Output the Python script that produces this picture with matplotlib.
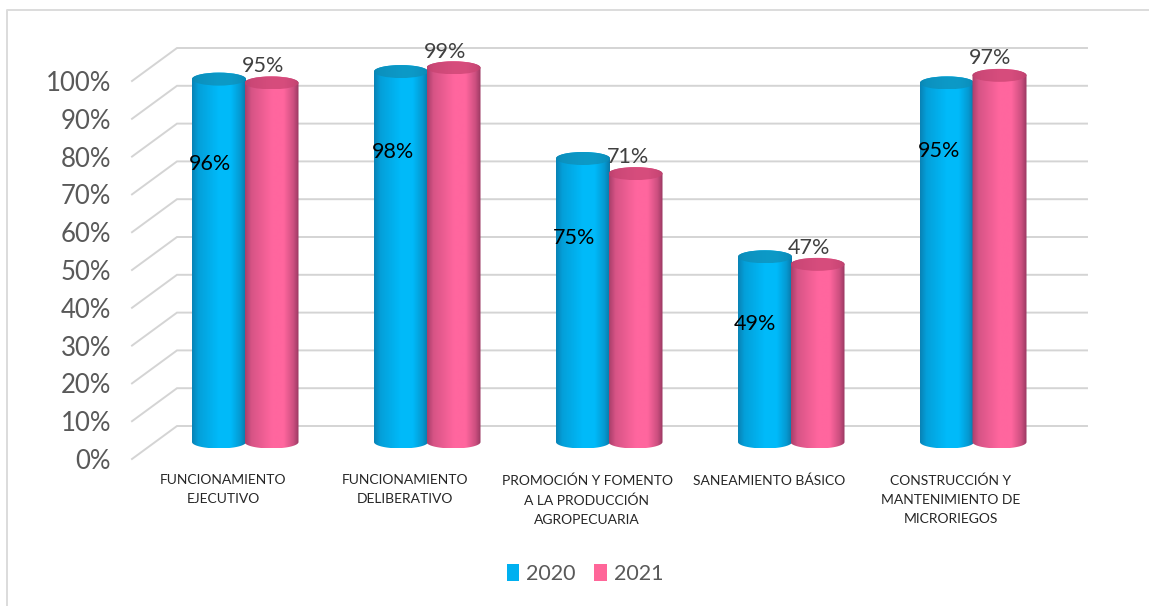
import numpy as np
import matplotlib
matplotlib.use("Agg")
import matplotlib.pyplot as plt
from matplotlib.patches import Polygon, Ellipse, Patch
from matplotlib.lines import Line2D

categories = ["FUNCIONAMIENTO\nEJECUTIVO", "FUNCIONAMIENTO\nDELIBERATIVO",
              "PROMOCIÓN Y FOMENTO\nA LA PRODUCCIÓN\nAGROPECUARIA",
              "SANEAMIENTO BÁSICO",
              "CONSTRUCCIÓN Y\nMANTENIMIENTO DE\nMICRORIEGOS"]
values_2020 = [96, 98, 75, 49, 95]
values_2021 = [95, 99, 71, 47, 97]
y_ticks = list(range(0, 101, 10))
series_names = ["2020", "2021"]

W, H = 1149, 606
plt.rcParams['font.family'] = ['Lato', 'DejaVu Sans']
fig = plt.figure(figsize=(W/100, H/100), dpi=100)
fig.patch.set_facecolor('white')
PX_X = 182.0
PX_Y = 3.78
Y_MAX = 112
ax = fig.add_axes([132/W, 1-459/H, 910/W, Y_MAX*PX_Y/H])
ax.patch.set_alpha(0)
for s in ax.spines.values():
    s.set_visible(False)

depth_x, depth_y = 45/PX_X, 33/PX_Y
mid_x, mid_y = 22/PX_X, 17/PX_Y
half_w = 27/PX_X
ry = 6.5/PX_Y

# outer frame: left and top edges only
fig.add_artist(Line2D([6.5/W, 6.5/W, 1.0], [0, 1-10/H, 1-10/H], transform=fig.transFigure,
                      color='#dcdcdc', lw=1.4))

# 3D walls / gridlines
for v in y_ticks:
    ax.plot([-0.5, -0.5+depth_x, 4.5+depth_x], [v, v+depth_y, v+depth_y],
            color='#d4d4d4', lw=1.4, clip_on=False, zorder=1, solid_joinstyle='miter')

def shade(dark, light, stops):
    t = np.linspace(0, 1, 200)
    prof = np.interp(t, [0, .12, .5, .72, .9, 1], stops)
    d, l = np.array(dark), np.array(light)
    return (d[None, :] + prof[:, None]*(l-d)[None, :])[None, :, :]

BODY = [0.15, .6, 1, 1, .5, 0]
CAP = [0.55, .8, 1, 1, .8, .55]

def cylinder(cx, top, dark, light, cap_d, cap_l, z):
    t = np.linspace(np.pi, 2*np.pi, 60)
    base = mid_y
    low = np.c_[cx+half_w*np.cos(t), base+ry*np.sin(t)]
    hi = np.c_[cx+half_w*np.cos(t[::-1]), top-ry*np.sin(t[::-1])]
    body = Polygon(np.r_[low, hi], closed=True, fc='none', ec='none')
    ax.add_patch(body)
    im = ax.imshow(shade(dark, light, BODY), extent=[cx-half_w, cx+half_w, base-ry, top+ry],
                   aspect='auto', zorder=z, interpolation='bilinear', origin='lower')
    im.set_clip_path(body)
    cap = Ellipse((cx, top), 2*half_w, 2*ry, fc='none', ec='none')
    ax.add_patch(cap)
    ic = ax.imshow(shade(cap_d, cap_l, CAP), extent=[cx-half_w, cx+half_w, top-ry, top+ry],
                   aspect='auto', zorder=z+.1, interpolation='bilinear', origin='lower')
    ic.set_clip_path(cap)

blue = ((.04, .47, .66), (0, .73, .98), (.03, .45, .62), (.05, .60, .78))
pink = ((.60, .22, .38), (1, .40, .62), (.62, .20, .36), (.84, .30, .49))
for i, (a, b) in enumerate(zip(values_2020, values_2021)):
    cylinder(i+mid_x-26/PX_X, a+mid_y, *blue, 3)
    cylinder(i+mid_x+26.5/PX_X, b+mid_y, *pink, 4)
ax.set_xlim(-0.5, 4.5)
ax.set_ylim(0, Y_MAX)

# data labels
blue_off = [(-9, -85), (-8, -80), (-9, -79), (-10, -67), (-8, -68)]
pink_off = [(-8, 17), (-8, 16), (-8, 17), (-9, 16), (-9, 17)]
for i, (a, b) in enumerate(zip(values_2020, values_2021)):
    ax.annotate(f"{a}%", (i+mid_x-26/PX_X, a+mid_y), xytext=blue_off[i],
                textcoords='offset pixels', ha='center', va='center', fontsize=15.5,
                color='black', zorder=6, annotation_clip=False)
    ax.annotate(f"{b}%", (i+mid_x+26.5/PX_X, b+mid_y), xytext=pink_off[i],
                textcoords='offset pixels', ha='center', va='center', fontsize=15.5,
                color='#404040', zorder=6, annotation_clip=False)

ax.set_yticks(y_ticks)
ax.set_yticklabels([f"{v}%" for v in y_ticks], fontsize=18.5, color='#595959')
ax.tick_params(axis='y', length=0, pad=15)
ax.set_xticks(range(5))
ax.set_xticklabels(categories, fontsize=10, color='#262626', linespacing=1.72, va='top')
ax.tick_params(axis='x', length=0, pad=11)
# the single-line label sits off-centre in the reference
ax.get_xticklabels()[3].set_x(3-14/PX_X)

handles = [Patch(fc='#00b0f0', label=series_names[0]), Patch(fc='#ff6699', label=series_names[1])]
fig.legend(handles=handles, loc='center', bbox_to_anchor=(585/W, 1-574/H), ncol=2, frameon=False,
           fontsize=15.5, labelcolor='#595959', handlelength=0.58, handleheight=0.78,
           handletextpad=0.33, columnspacing=0.84)
fig.savefig("out.png", dpi=100)
